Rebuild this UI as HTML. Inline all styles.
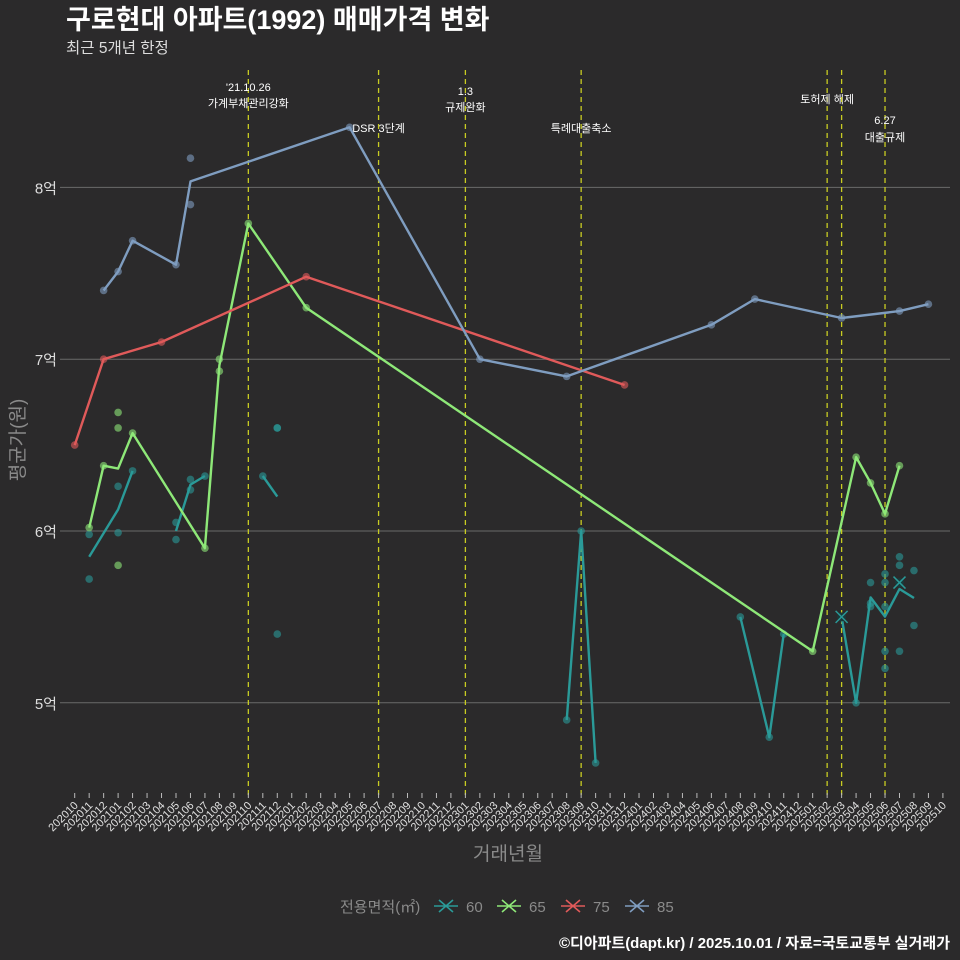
<!DOCTYPE html>
<html><head><meta charset="utf-8">
<style>
body{margin:0;background:#2b2a2b;}
svg{display:block;font-family:"Liberation Sans","Noto Sans CJK KR",sans-serif;}
</style></head>
<body>
<svg id="chart" width="960" height="960" viewBox="0 0 960 960">
<rect width="960" height="960" fill="#2b2a2b"/>
<text x="66" y="29" font-size="27" font-weight="bold" fill="#ffffff">구로현대 아파트(1992) 매매가격 변화</text>
<text x="66" y="53" font-size="15.5" fill="#dddddd">최근 5개년 한정</text>
<g id="grid"></g>
<g id="vlines"></g>
<g id="xaxis"></g>
<g id="series"></g>
<text x="508" y="860" font-size="19" fill="#8a8a8a" text-anchor="middle">거래년월</text>
<text transform="translate(24,440) rotate(-90)" font-size="19" fill="#8a8a8a" text-anchor="middle">평균가(원)</text>
<g id="legend">
<text x="340" y="912" font-size="15" fill="#8a8a8a">전용면적(㎡)</text>
</g>
<text x="950" y="948" font-size="15" font-weight="bold" fill="#ffffff" text-anchor="end">©디아파트(dapt.kr) / 2025.10.01 / 자료=국토교통부 실거래가</text>
</svg>
<script>
// data
const months = [];
for (let y = 2020, m = 10; months.length < 61; ) { months.push(y + String(m).padStart(2,'0')); m++; if (m > 12) { m = 1; y++; } }
const yTicks = [5, 6, 7, 8];
const yTickLabels = ['5억', '6억', '7억', '8억'];
const seriesNames = ['60', '65', '75', '85'];
const seriesColors = ['#2a9a98', '#8ee878', '#e05a5a', '#7f9dc0'];
// points: [monthIndex, value(억)]
const pts60 = [[1,5.98],[1,5.72],[3,6.26],[3,5.99],[4,6.35],[7,6.05],[7,5.95],[8,6.30],[8,6.24],[9,6.32],[13,6.32],[14,6.60],[14,6.60],[14,5.40],[34,4.90],[35,6.00],[36,4.65],[46,5.50],[48,4.80],[49,5.40],[53,5.50],[54,5.00],[55,5.70],[55,5.56],[55,5.58],[56,5.75],[56,5.70],[56,5.56],[56,5.30],[56,5.20],[57,5.85],[57,5.80],[57,5.70],[57,5.30],[58,5.77],[58,5.45]];
const pts65 = [[1,6.02],[2,6.38],[3,6.69],[3,6.60],[3,5.80],[4,6.57],[9,5.90],[10,7.00],[10,6.93],[12,7.79],[16,7.30],[51,5.30],[54,6.43],[55,6.28],[56,6.10],[57,6.38]];
const pts75 = [[0,6.50],[2,7.00],[6,7.10],[16,7.48],[38,6.85]];
const pts85 = [[2,7.40],[3,7.51],[4,7.69],[7,7.55],[8,8.17],[8,7.90],[19,8.35],[28,7.00],[34,6.90],[44,7.20],[47,7.35],[53,7.24],[57,7.28],[59,7.32]];
const cancelled60 = [[53,5.50],[57,5.70]];
const maxGap = [2, 99, 99, 99];
const eventMonths = [12, 21, 27, 35, 52, 53, 56];
const eventLabels = [["'21.10.26","가계부채관리강화"],["DSR 3단계"],["1.3","규제완화"],["특례대출축소"],["토허제 해제"],[],["6.27","대출규제"]];

const NS = 'http://www.w3.org/2000/svg';
const X0 = 74.7, DX = 14.47;
const xS = i => X0 + i * DX;
const yS = v => 531 - (v - 6) * 171.8;
function mk(tag, attrs, parent) { const e = document.createElementNS(NS, tag); for (const k in attrs) e.setAttribute(k, attrs[k]); parent.appendChild(e); return e; }

const grid = document.getElementById('grid');
yTicks.forEach((v, i) => {
  const l = mk('line', {x1: 60, x2: 950, y1: yS(v), y2: yS(v), stroke: '#6a6a6a', 'stroke-width': 1}, grid);
  
  
  const t = mk('text', {x: 57, y: yS(v) + 6, 'font-size': 15, fill: '#dddddd', 'text-anchor': 'end'}, grid);
  t.textContent = yTickLabels[i];
  
  
});

const vl = document.getElementById('vlines');
const labelPos = [[91,107],[132],[95,111],[132],[103],[],[124,141]];
eventMonths.forEach((m, i) => {
  const l = mk('line', {x1: xS(m), x2: xS(m), y1: 70, y2: 795, stroke: '#c8cc22', 'stroke-width': 1.3, 'stroke-dasharray': '5,4'}, vl);
  
  
  eventLabels[i].forEach((s, j) => {
    const t = mk('text', {x: xS(m), y: labelPos[i][j], 'font-size': 11, fill: '#ffffff', 'text-anchor': 'middle'}, vl);
    t.textContent = s;
    
    
  });
});

const xa = document.getElementById('xaxis');
months.forEach((m, i) => {
  const x = xS(i);
  const tk = mk('line', {x1: x, x2: x, y1: 793, y2: 798, stroke: '#bbbbbb', 'stroke-width': 1}, xa);
  
  
  const t = mk('text', {x: x + 4, y: 806, 'font-size': 11, fill: '#e0e0e0', 'text-anchor': 'end', transform: `rotate(-45 ${x + 4} 806)`}, xa);
  t.textContent = m;
  
  
});

const sg = document.getElementById('series');
const allPts = [pts60, pts65, pts75, pts85];
allPts.forEach((pts, si) => {
  const col = seriesColors[si];
  const g = mk('g', {}, sg);
  
  
  const byM = {};
  pts.forEach(([m, v]) => { (byM[m] = byM[m] || []).push(v); });
  const ms = Object.keys(byM).map(Number).sort((a, b) => a - b);
  let d = '';
  ms.forEach((m, k) => {
    const mean = byM[m].reduce((a, b) => a + b, 0) / byM[m].length;
    const brk = k === 0 || (m - ms[k - 1]) > maxGap[si];
    d += (brk ? 'M' : 'L') + xS(m).toFixed(1) + ',' + yS(mean).toFixed(1) + ' ';
  });
  pts.forEach(([m, v]) => {
    const c = mk('circle', {cx: xS(m), cy: yS(v), r: 3.8, fill: col, 'fill-opacity': 0.6}, g);
    
    
  });
  const p = mk('path', {d: d, fill: 'none', stroke: col, 'stroke-width': 2.4, 'stroke-linejoin': 'round'}, g);
  
  
});
cancelled60.forEach(([m, v]) => {
  const x = xS(m), y = yS(v);
  const c = mk('circle', {cx: x, cy: y, r: 4.5, fill: '#1a3a3a'}, sg);
  
  
  const p = mk('path', {d: `M${x-6},${y-6}L${x+6},${y+6}M${x-6},${y+6}L${x+6},${y-6}`, stroke: seriesColors[0], 'stroke-width': 1.5}, sg);
  
  
});

const lg = document.getElementById('legend');
const lx = [446, 509, 573, 637];
seriesNames.forEach((n, i) => {
  const x = lx[i], y = 906;
  const p = mk('path', {d: `M${x-12},${y}L${x+12},${y}M${x-7},${y-6}L${x+7},${y+6}M${x-7},${y+6}L${x+7},${y-6}`, stroke: seriesColors[i], 'stroke-width': 1.6}, lg);
  
  
  const t = mk('text', {x: x + 20, y: 912, 'font-size': 15, fill: '#8a8a8a'}, lg);
  t.textContent = n;
  
  
});
</script>
</body></html>
